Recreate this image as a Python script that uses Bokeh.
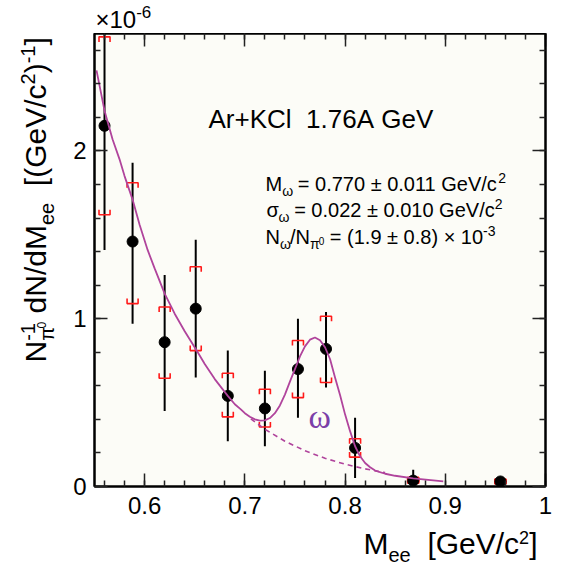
import numpy as np
from bokeh.plotting import figure
from bokeh.models import Label, LinearAxis, FixedTicker, Range1d
from bokeh.layouts import row, column
from bokeh.embed import file_html
from bokeh.resources import INLINE

# ---------------- data (y in units of 1e-6 (GeV/c^2)^-1) ----------------
mass = [0.560, 0.588, 0.620, 0.651, 0.683, 0.720, 0.753, 0.781, 0.810, 0.868, 0.955]
yield_ = [2.15, 1.46, 0.86, 1.06, 0.54, 0.465, 0.70, 0.82, 0.23, 0.035, 0.03]
stat_hi = [2.80, 1.93, 1.26, 1.47, 0.81, 0.69, 1.00, 1.04, 0.41, 0.10, 0.05]
stat_lo = [1.41, 0.97, 0.45, 0.65, 0.27, 0.24, 0.41, 0.59, 0.05, 0.00, 0.01]
sys_hi = [2.68, 1.81, 1.07, 1.31, 0.675, 0.58, 0.87, 1.015, 0.285, 0.055, 0.045]
sys_lo = [1.62, 1.09, 0.645, 0.81, 0.415, 0.355, 0.53, 0.62, 0.175, 0.02, 0.015]

# fitted curve (background + omega)
fit_x = [0.552, 0.560, 0.568, 0.575, 0.580, 0.588, 0.595, 0.603, 0.610, 0.620,
         0.630, 0.640, 0.653, 0.660, 0.670, 0.683, 0.690, 0.696, 0.700, 0.705,
         0.710, 0.715, 0.720, 0.725, 0.730, 0.735, 0.740, 0.745, 0.750, 0.755,
         0.760, 0.765, 0.770, 0.775, 0.780, 0.785, 0.790, 0.795, 0.800, 0.805,
         0.810, 0.815, 0.820, 0.825, 0.830, 0.840, 0.850, 0.868, 0.898]
fit_y = [2.48, 2.24, 2.07, 1.95, 1.85, 1.71, 1.56, 1.41, 1.30, 1.15,
         1.03, 0.925, 0.80, 0.73, 0.64, 0.54, 0.49, 0.46, 0.437, 0.416,
         0.40, 0.393, 0.394, 0.408, 0.437, 0.483, 0.548, 0.625, 0.70, 0.775,
         0.835, 0.875, 0.888, 0.872, 0.83, 0.76, 0.65, 0.545, 0.43, 0.33,
         0.24, 0.18, 0.14, 0.115, 0.095, 0.076, 0.064, 0.048, 0.03]

# background-only part (dashed)
bg_x = [0.706, 0.720, 0.740, 0.760, 0.780, 0.800, 0.820, 0.840]
bg_y = [0.403, 0.341, 0.270, 0.213, 0.168, 0.133, 0.105, 0.083]

x_ticks = [0.6, 0.7, 0.8, 0.9, 1.0]
x_tick_labels = ["0.6", "0.7", "0.8", "0.9", "1"]
y_ticks = [0, 1, 2]
y_tick_labels = ["0", "1", "2"]

FONT = "Liberation Sans"
CURVE = "#b0449c"
K = 0.35  # empirical baseline correction (fraction of font size)

# ---------------- main figure ----------------
p = figure(width=501, height=493, x_range=Range1d(0.55, 1.0), y_range=Range1d(0, 2.7),
           output_backend="svg", toolbar_location=None, title=None,
           min_border_left=34, min_border_right=16, min_border_top=0, min_border_bottom=40)
p.grid.visible = False
p.background_fill_color = "#fcfcf7"
p.border_fill_color = "white"
p.outline_line_color = "black"
p.outline_line_width = 2

x_minor = list(np.round(np.arange(0.56, 1.0001, 0.02), 3))
y_minor = list(np.round(np.arange(0.0, 2.7, 0.2), 3))


def style(ax, ticks, minor, labels=None):
    ax.ticker = FixedTicker(ticks=ticks, minor_ticks=minor)
    ax.major_tick_in = 13
    ax.major_tick_out = 0
    ax.minor_tick_in = 6
    ax.minor_tick_out = 0
    ax.major_tick_line_width = 1.5
    ax.minor_tick_line_width = 1.5
    ax.major_tick_line_color = "#222222"
    ax.minor_tick_line_color = "#222222"
    ax.axis_line_width = 2
    ax.axis_line_color = "black"
    ax.axis_label = None
    if labels is None:
        ax.major_label_text_font_size = "0px"
        ax.major_label_text_color = None
        ax.major_label_standoff = 0
    else:
        ax.major_label_overrides = dict(zip(ticks, labels))
        ax.major_label_text_font = FONT
        ax.major_label_text_font_size = "24px"
        ax.major_label_text_color = "black"
        ax.major_label_standoff = 10


style(p.xaxis[0], x_ticks, x_minor, x_tick_labels)
style(p.yaxis[0], y_ticks, y_minor, y_tick_labels)
p.yaxis[0].major_label_standoff = 8
top = LinearAxis()
style(top, x_ticks, x_minor)
right = LinearAxis()
style(right, y_ticks, y_minor)
p.add_layout(top, "above")
p.add_layout(right, "right")

p.segment(x0=mass, y0=stat_lo, x1=mass, y1=stat_hi, line_color="black", line_width=2)

h, t = 0.0055, 0.03
bx, by = [], []
for m, hi, lo in zip(mass, sys_hi, sys_lo):
    bx.append([m - h, m - h, m + h, m + h]); by.append([hi - t, hi, hi, hi - t])
    bx.append([m - h, m - h, m + h, m + h]); by.append([lo + t, lo, lo, lo + t])
p.multi_line(xs=bx, ys=by, line_color="#ff1a1a", line_width=1.6)

p.scatter(x=mass, y=yield_, size=11, color="black", marker="circle")

p.line(x=bg_x, y=bg_y, line_color=CURVE, line_width=1.6, line_dash="5 4")
p.line(x=fit_x, y=fit_y, line_color=CURVE, line_width=1.8)


# ---------------- text helpers ----------------
W = {' ': 0.278, '\u00a0': 0.278, '(': 0.333, ')': 0.333, '+': 0.584, '-': 0.333,
     '.': 0.278, '/': 0.278, '=': 0.584, '±': 0.549, '×': 0.584, 'A': 0.667, 'G': 0.778,
     'K': 0.667, 'C': 0.722, 'M': 0.833, 'N': 0.722, 'V': 0.667, 'e': 0.556, 'c': 0.5,
     'd': 0.556, 'l': 0.222, 'r': 0.333, '[': 0.278, ']': 0.278, 'ω': 0.72, 'σ': 0.60,
     'π': 0.62}


def tw(s, size):
    return sum(W.get(c, 0.556) for c in s) * size


def main_map(gx, gy):
    return 0.55 + (gx - 94) * 0.45 / 451, (486 - gy) * 2.7 / 453


def strip(fw, fh, left=0, right_b=0):
    f = figure(frame_width=fw, frame_height=fh, x_range=Range1d(0, fw), y_range=Range1d(0, fh),
               output_backend="svg", toolbar_location=None, title=None,
               min_border_left=left, min_border_right=right_b, min_border_top=0,
               min_border_bottom=0, x_axis_location=None, y_axis_location=None)
    f.outline_line_color = None
    f.background_fill_color = "white"
    f.border_fill_color = "white"
    f.grid.visible = False
    return f


def put(fig, mapper, pieces, gx, gy, angle=0.0, color="black", font=FONT):
    pos = 0.0
    for text, size, shift, adv in pieces:
        text = text.replace(" ", "\u00a0")
        if angle == 0:
            x, y = gx + pos, gy + shift - K * size
        else:
            x, y = gx + shift - K * size, gy - pos
        dx, dy = mapper(x, y)
        fig.add_layout(Label(x=dx, y=dy, text=text, angle=angle,
                             text_font=font, text_font_size=f"{size}px", text_color=color,
                             text_align="left", text_baseline="alphabetic"))
        if adv:
            pos += tw(text, size)


# texts inside the frame
put(p, main_map, [("Ar+KCl  1.76A GeV", 26, 0, True)], 208, 128)
put(p, main_map, [("M", 20, 0, True), ("ω", 14, 5, True), (" = 0.770 ± 0.011 GeV/c", 20, 0, True),
                  ("2", 14, -8, True)], 265, 190)
put(p, main_map, [("σ", 20, 0, True), ("ω", 14, 5, True), (" = 0.022 ± 0.010 GeV/c", 20, 0, True),
                  ("2", 14, -8, True)], 266, 216)
put(p, main_map, [("N", 20, 0, True), ("ω", 14, 5, True), ("/N", 20, 0, True), ("π", 14, 5, True),
                  ("0", 10, 1, True), (" = (1.9 ± 0.8) × 10", 20, 0, True),
                  ("-3", 14, -8, True)], 265, 243)
put(p, main_map, [("ω", 34, 0, True)], 308, 428, color="#7b3fa8", font="Liberation Serif")

# left strip: y-axis title (canvas x 0..60, y 0..569)
L = strip(60, 569)
put(L, lambda x, y: (x, 569 - y),
    [("N", 30, 0, True), ("-1", 20, -11, False), ("π", 20, 8, True), ("0", 12, 0, True),
     (" dN/dM", 30, 0, True), ("ee", 20, 8, True), ("  [(GeV/c", 30, 0, True),
     ("2", 20, -11, True), (")", 30, 0, True), ("-1", 20, -11, True), ("]", 30, 0, True)],
    45, 362, angle=np.pi / 2)

# top strip: exponent (frame aligned with main frame: x 94..545, y 0..33)
T = strip(451, 33, left=34, right_b=16)
put(T, lambda x, y: (x - 94, 33 - y), [("×10", 24, 0, True), ("-6", 17, -10, True)], 95, 27)

# bottom strip: x-axis title (frame x 94..545, y 526..569)
B = strip(451, 43, left=34, right_b=16)
put(B, lambda x, y: (x - 94, 43 - (y - 526)),
    [("M", 30, 0, True), ("ee", 20, 8, True), ("  [GeV/c", 30, 0, True),
     ("2", 18, -10, True), ("]", 30, 0, True)], 363, 553)

layout = row(L, column(T, p, B))
open("out.html", "w").write(file_html(layout, INLINE))
